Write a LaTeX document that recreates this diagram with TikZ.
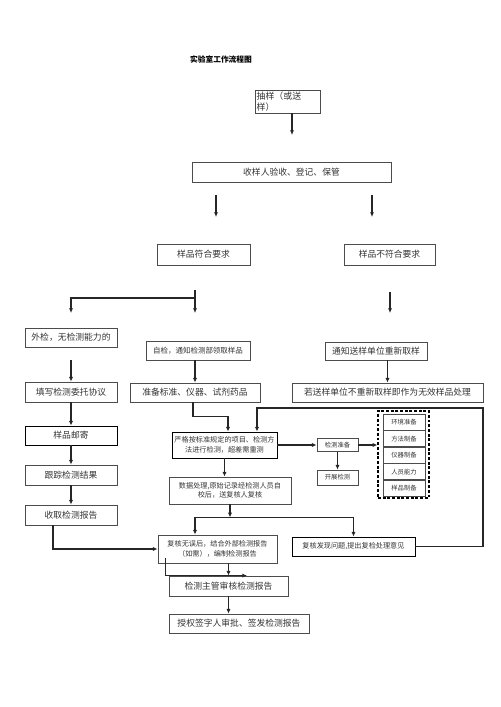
\documentclass[tikz,border=0pt]{standalone}
\usepackage{fontspec}
\newfontfamily\cjk{Noto Sans CJK SC}
\usetikzlibrary{arrows.meta,calc}

\begin{document}
\begin{tikzpicture}[x=0.03cm,y=-0.03cm,
    main node/.style={rectangle,draw=black!70,line width=0.7pt,inner sep=1pt,minimum height=0.6cm,text=black!80,font=\cjk\fontsize{7.5}{9}\selectfont},
    small node/.style={main node,align=center,font=\cjk\fontsize{6.1}{8.2}\selectfont},
    tiny node/.style={main node,font=\cjk\fontsize{5.4}{6}\selectfont},
    arr/.style={-{Latex[length=4pt,width=3.6pt]},line width=0.9pt,black!85}]
    \useasboundingbox (0,0) rectangle (500,707);

    \node[font=\cjk\bfseries\fontsize{6.6}{8}\selectfont] (title) at (221,60) {实验室工作流程图};
    \node[main node,minimum width=1.95cm,minimum height=0.69cm,text width=1.85cm,align=left,font=\cjk\fontsize{7.6}{9.4}\selectfont] (sample) at (287.5,101.5) {抽样（或送\\样）};
    \node[main node,minimum width=5.97cm] (recv) at (291.5,172) {收样人验收、登记、保管};
    \node[main node,minimum width=2.79cm,minimum height=0.63cm] (ok) at (203.5,254.5) {样品符合要求};
    \node[main node,minimum width=2.73cm,minimum height=0.63cm] (nok) at (389.5,254.5) {样品不符合要求};
    \node[main node,minimum width=2.76cm,minimum height=0.57cm] (outside) at (71,337.5) {外检，无检测能力的};
    \node[small node,minimum width=3.12cm,minimum height=0.57cm,font=\cjk\fontsize{6.4}{8}\selectfont] (self) at (198,350.5) {自检，通知检测部领取样品};
    \node[main node,minimum width=3.06cm,minimum height=0.54cm] (notify) at (376,351) {通知送样单位重新取样};
    \node[main node,minimum width=2.76cm] (contract) at (71,392) {填写检测委托协议};
    \node[main node,minimum width=3.9cm,minimum height=0.57cm] (prep) at (195,392.5) {准备标准、仪器、试剂药品};
    \node[main node,minimum width=5.73cm,minimum height=0.57cm] (invalid) at (387.5,392.5) {若送样单位不重新取样即作为无效样品处理};
    \node[main node,minimum width=2.76cm,minimum height=0.57cm,draw=black] (mail) at (71,435.5) {样品邮寄};
    \node[main node,minimum width=2.76cm] (track) at (71,475) {跟踪检测结果};
    \node[main node,minimum width=2.76cm] (collect) at (71,515) {收取检测报告};
    \node[small node,minimum width=3.15cm,minimum height=0.78cm,draw=black] (test) at (224.5,445) {严格按标准规定的项目、检测方\\法进行检测，超差需重测};
    \node[tiny node,minimum width=1.23cm,minimum height=0.39cm] (testprep) at (337.5,445) {检测准备};
    \node[tiny node,minimum width=1.23cm,minimum height=0.45cm] (run) at (337.5,477.5) {开展检测};
    \node[draw=black,dashed,line width=1pt,dash pattern=on 2.5pt off 1.5pt,minimum width=1.53cm,minimum height=2.61cm] (res) at (403.5,454.5) {};
    \foreach \name/\txt [count=\i] in {env/环境准备,method/方法制备,instr/仪器制备,staff/人员能力,specimen/样品制备}
        \node[tiny node,minimum width=1.26cm,minimum height=0.48cm] (\name) at (404,405.5+16.6*\i) {\txt};
    \node[small node,minimum width=3.66cm,minimum height=0.81cm] (data) at (230,490.5) {数据处理,原始记录经检测人员自\\校后，送复核人复核};
    \node[small node,minimum width=3.57cm,minimum height=0.84cm] (review) at (217.5,549) {复核无误后，结合外部检测报告\\（如需），编制检测报告};
    \node[small node,minimum width=3.69cm,minimum height=0.57cm,draw=black] (problem) at (353.5,546.5) {复核发现问题,提出复检处理意见};
    \node[main node,minimum width=3.57cm] (audit) at (228.5,586) {检测主管审核检测报告};
    \node[main node,minimum width=4.2cm,minimum height=0.57cm] (sign) at (239,623.5) {授权签字人审批、签发检测报告};

    % free ends of the connectors
    \coordinate (s1) at (292,135);
    \coordinate (r1) at (216,195);
    \coordinate (r2) at (216,217);
    \coordinate (r3) at (372,195);
    \coordinate (r4) at (372,217);
    \coordinate (b0) at (195,290);
    \coordinate (b1) at (195,298);
    \coordinate (b2) at (195,313);
    \coordinate (b3) at (71,313);
    \coordinate (n1) at (390,292);
    \coordinate (n2) at (390,313);
    \coordinate (l1) at (71,360);
    \coordinate (fb) at (483,408);

    \draw[arr] (sample.south -| s1) -- (s1);
    \draw[arr] (r1) -- (r2);
    \draw[arr] (r3) -- (r4);
    \draw[arr] (b0) -- (b2);
    \draw[arr] (b1) -| (b3);
    \draw[arr] (n1) -- (n2);
    \draw[arr] (l1) -- (contract);
    \draw[arr] (prep.north |- self.south) -- (prep.north);
    \draw[arr] (invalid.north |- notify.south) -- (invalid.north);
    \draw[arr] (contract) -- (mail);
    \draw[arr] (mail) -- (track);
    \draw[arr] (track) -- (collect);
    \draw[arr] ($(collect.south)+(-18,0)$) |- (review.west);
    \draw[arr] ($(prep.south)+(-2,0)$) -- ++(0,14) -| ($(test.north)+(3.5,0)$);
    \draw[arr] (problem.east) -| (fb) -| ($(test.north)+(32.5,0)$);
    \draw[arr] (test) -- (testprep);
    \draw[arr] (testprep.east) -- (testprep.east -| res.west);
    \draw[arr] (testprep) -- (run);
    \draw[arr] (test.south) -- (test.south |- data.north);
    \draw[arr] (data.south) -- ++(0,13) coordinate (j);
    \draw[arr] (j) -| ($(review.north)+(-22.5,0)$);
    \draw[arr] (j) -| (problem.north);
    \draw[arr] (review.south -| audit.north) -- (audit.north);
    \draw[arr] ($(review.south west)+(8,-5)$) |- ($(audit.north)+(18.5,0)$);
    \draw[arr] (audit.south) -- (audit.south |- sign.north);
\end{tikzpicture}
\end{document}
